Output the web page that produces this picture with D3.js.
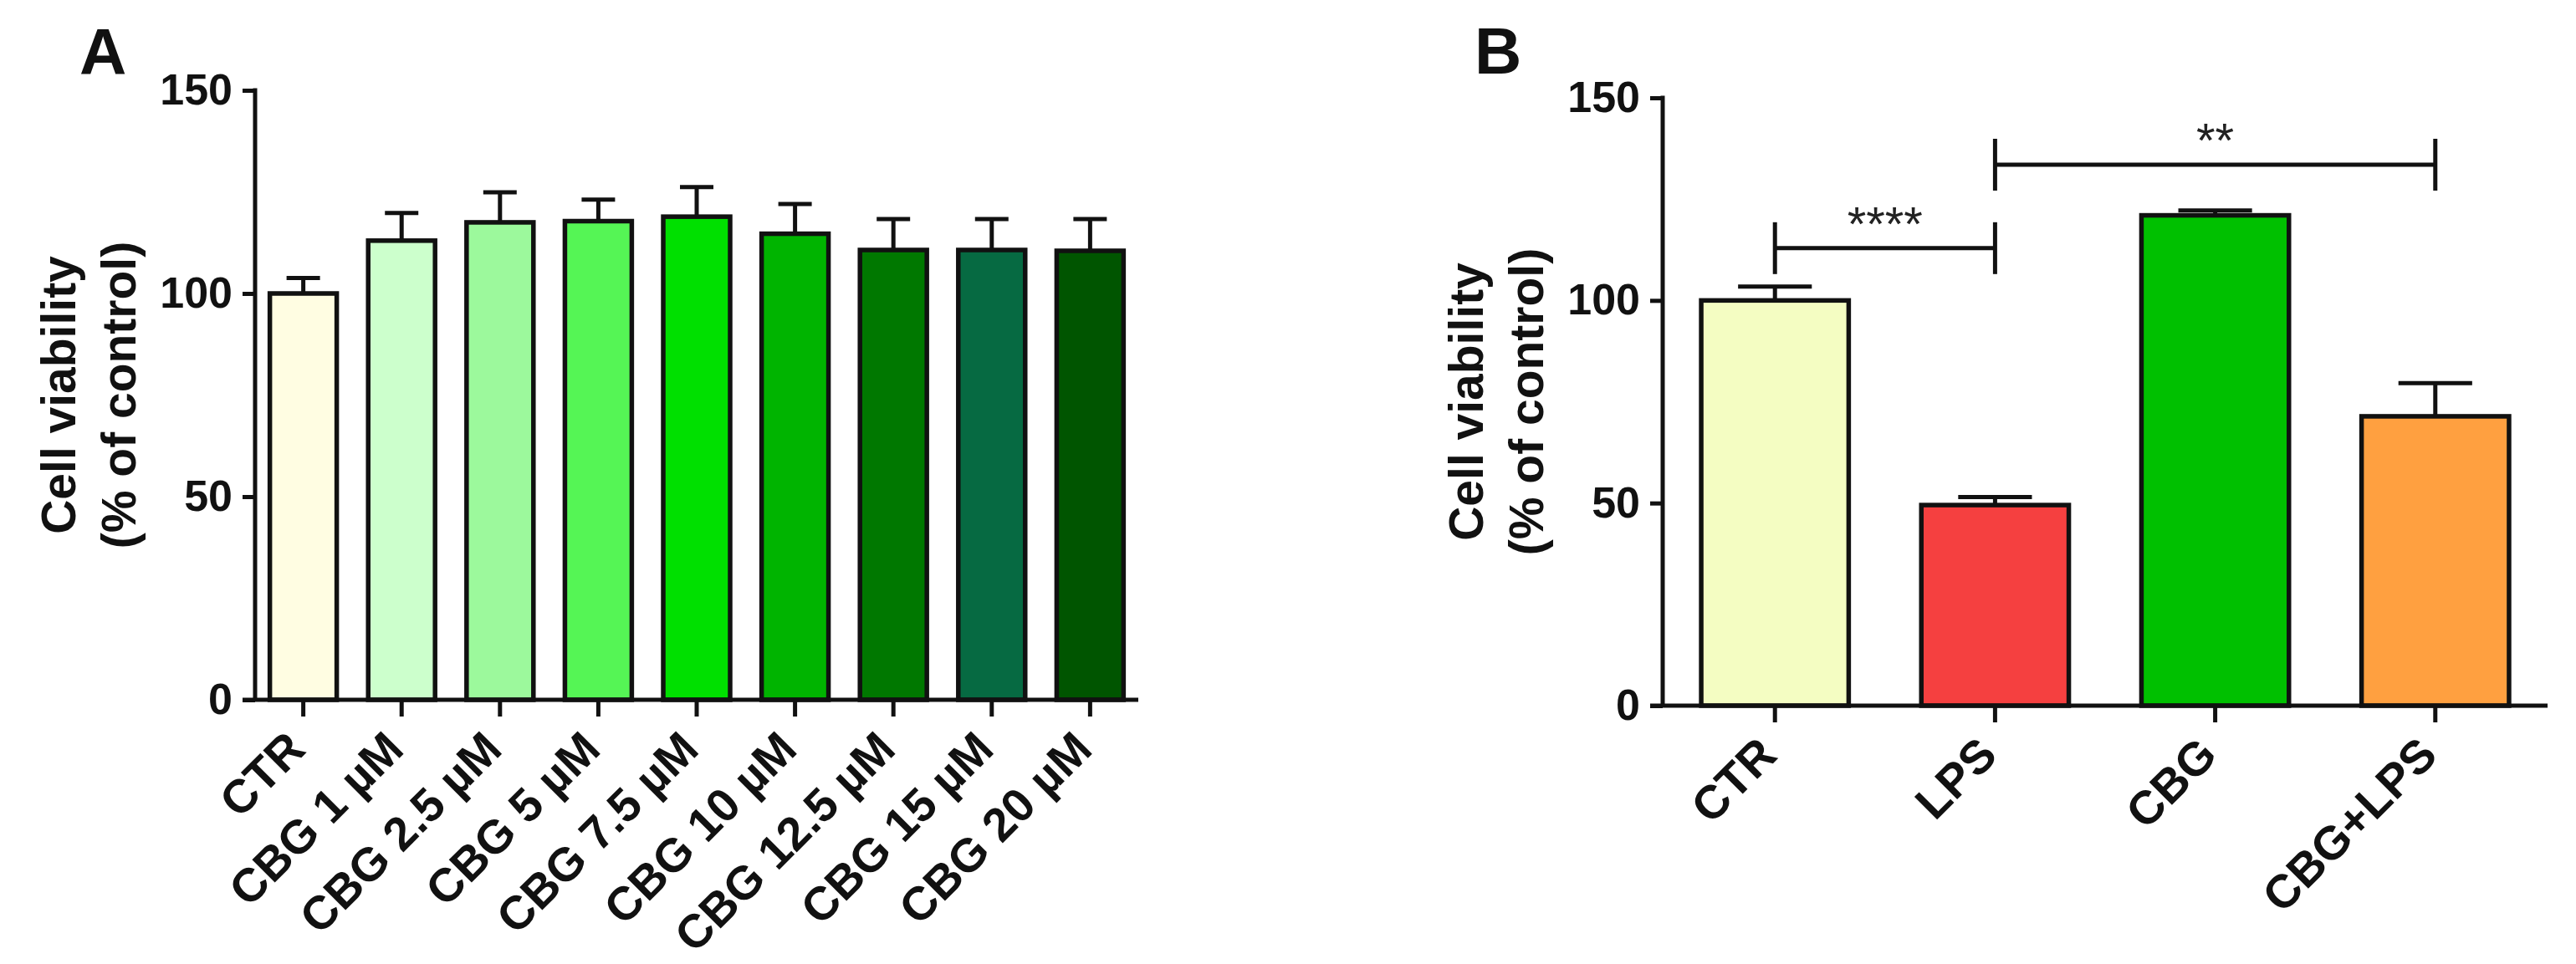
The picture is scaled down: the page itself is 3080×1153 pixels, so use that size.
<!DOCTYPE html>
<html>
<head>
<meta charset="utf-8">
<script src="https://cdn.jsdelivr.net/npm/d3@7"></script>
<style>
  body { margin: 0; background: #fff; }
  svg text { font-family: "Liberation Sans", Arial, sans-serif; font-weight: bold; fill: #111; }
</style>
</head>
<body>
<div id="wrapper"></div>
<script>
// panel A: dose response
const doseLabels = ["CTR", "CBG 1 µM", "CBG 2.5 µM", "CBG 5 µM", "CBG 7.5 µM", "CBG 10 µM", "CBG 12.5 µM", "CBG 15 µM", "CBG 20 µM"]
const doseMeans = [100, 113, 117.5, 117.8, 118.9, 114.7, 110.7, 110.7, 110.5]
const doseErrors = [3.8, 6.8, 7.4, 5.3, 7.3, 7.3, 7.6, 7.6, 7.8]
const doseColors = ["#FFFDE2", "#CCFFCC", "#9CF99C", "#55F555", "#00E000", "#00B400", "#007800", "#066A42", "#005500"]

// panel B: LPS treatment
const treatLabels = ["CTR", "LPS", "CBG", "CBG+LPS"]
const treatMeans = [100, 49.5, 121, 71.4]
const treatErrors = [3.4, 2, 1.2, 8.2]
const treatColors = ["#F4FDC2", "#F54040", "#00C000", "#FFA040"]

// significance brackets (panel B)
const bracketFrom = ["CTR", "LPS"]
const bracketTo = ["LPS", "CBG+LPS"]
const bracketLevel = [112.9, 133.5]
const bracketStars = ["****", "**"]

const yTicks = [0, 50, 100, 150]

function drawChart() {

// 1. Canvas
  const dimensions = { width: 3080, height: 1153 }

  const wrapper = d3.select("#wrapper")
    .append("svg")
      .attr("width", dimensions.width)
      .attr("height", dimensions.height)
      .style("display", "block")

  wrapper.append("rect")
    .attr("width", dimensions.width)
    .attr("height", dimensions.height)
    .attr("fill", "#fff")

// 2. Panels
  drawPanel(wrapper, {
    letter: "A", letterX: 95, letterY: 89,
    labels: doseLabels, means: doseMeans, errors: doseErrors, colors: doseColors,
    left: 305, right: 1361, top: 108, bottom: 837,
    padInner: 0.32, padOuter: 0.15,
  })

  const panelB = drawPanel(wrapper, {
    letter: "B", letterX: 1763, letterY: 88,
    labels: treatLabels, means: treatMeans, errors: treatErrors, colors: treatColors,
    left: 1988, right: 3046, top: 117, bottom: 844,
    padInner: 0.33, padOuter: 0.175,
  })

// 3. Significance brackets
  const centre = d => panelB.xScale(d) + panelB.xScale.bandwidth() / 2
  const brackets = bracketStars.map((s, i) => ({
    from: bracketFrom[i], to: bracketTo[i], level: bracketLevel[i], stars: s,
  }))

  const bracket = panelB.bounds.selectAll(".bracket")
    .data(brackets)
    .join("g")
      .attr("class", "bracket")

  bracket.append("line")
    .attr("x1", d => centre(d.from))
    .attr("x2", d => centre(d.to))
    .attr("y1", d => panelB.yScale(d.level))
    .attr("y2", d => panelB.yScale(d.level))
  bracket.append("line")
    .attr("x1", d => centre(d.from))
    .attr("x2", d => centre(d.from))
    .attr("y1", d => panelB.yScale(d.level) - 31)
    .attr("y2", d => panelB.yScale(d.level) + 31)
  bracket.append("line")
    .attr("x1", d => centre(d.to))
    .attr("x2", d => centre(d.to))
    .attr("y1", d => panelB.yScale(d.level) - 31)
    .attr("y2", d => panelB.yScale(d.level) + 31)
  bracket.selectAll("line")
    .attr("stroke", "#111")
    .attr("stroke-width", 5)

  bracket.append("text")
    .attr("x", d => (centre(d.from) + centre(d.to)) / 2)
    .attr("y", d => panelB.yScale(d.level) - 9)
    .attr("text-anchor", "middle")
    .style("font-size", "58px")
    .style("font-weight", "normal")
    .style("fill", "#222")
    .text(d => d.stars)
}

function drawPanel(wrapper, panel) {
  const dataset = panel.labels.map((d, i) => ({
    label: d, mean: panel.means[i], err: panel.errors[i], color: panel.colors[i],
  }))

  const bounds = wrapper.append("g")

// scales
  const xScale = d3.scaleBand()
    .domain(panel.labels)
    .range([panel.left, panel.right])
    .paddingInner(panel.padInner)
    .paddingOuter(panel.padOuter)

  const yScale = d3.scaleLinear()
    .domain([0, 150])
    .range([panel.bottom, panel.top])

  const bw = xScale.bandwidth()

// error bars (drawn first, bar outline covers the foot)
  const errors = bounds.append("g")
    .attr("stroke", "#111")
    .attr("stroke-width", 5)
  errors.selectAll(".stem")
    .data(dataset)
    .join("line")
      .attr("x1", d => xScale(d.label) + bw / 2)
      .attr("x2", d => xScale(d.label) + bw / 2)
      .attr("y1", d => yScale(d.mean))
      .attr("y2", d => yScale(d.mean + d.err))
  errors.selectAll(".cap")
    .data(dataset)
    .join("line")
      .attr("x1", d => xScale(d.label) + bw / 4)
      .attr("x2", d => xScale(d.label) + bw * 3 / 4)
      .attr("y1", d => yScale(d.mean + d.err))
      .attr("y2", d => yScale(d.mean + d.err))

// bars
  bounds.append("g").selectAll("rect")
    .data(dataset)
    .join("rect")
      .attr("x", d => xScale(d.label))
      .attr("y", d => yScale(d.mean))
      .attr("width", bw)
      .attr("height", d => yScale(0) - yScale(d.mean))
      .attr("fill", d => d.color)
      .attr("stroke", "#111")
      .attr("stroke-width", 5.5)

// y axis
  const yAxisGenerator = d3.axisLeft(yScale)
    .tickValues(yTicks)
    .tickSize(15)
    .tickSizeOuter(0)
    .tickPadding(12)
  const yAxis = bounds.append("g")
    .attr("transform", `translate(${panel.left},0)`)
    .call(yAxisGenerator)
  yAxis.select(".domain").remove()
  yAxis.selectAll("line")
    .attr("stroke", "#111")
    .attr("stroke-width", 5)
  yAxis.selectAll("text")
    .style("font-size", "52px")

  bounds.append("line")
    .attr("x1", panel.left)
    .attr("x2", panel.left)
    .attr("y1", yScale(150) - 2.5)
    .attr("y2", yScale(0))
    .attr("stroke", "#111")
    .attr("stroke-width", 5)

// x axis
  const xAxisGenerator = d3.axisBottom(xScale)
    .tickSize(20)
    .tickSizeOuter(0)
  const xAxis = bounds.append("g")
    .attr("transform", `translate(0,${panel.bottom})`)
    .call(xAxisGenerator)
  xAxis.select(".domain").remove()
  xAxis.selectAll("line")
    .attr("stroke", "#111")
    .attr("stroke-width", 5)
  xAxis.selectAll("text")
    .attr("x", null)
    .attr("y", null)
    .attr("dy", null)
    .attr("transform", "translate(5,62) rotate(-45)")
    .attr("text-anchor", "end")
    .style("font-size", "56px")

  bounds.append("line")
    .attr("x1", panel.left - 15)
    .attr("x2", panel.right)
    .attr("y1", yScale(0))
    .attr("y2", yScale(0))
    .attr("stroke", "#111")
    .attr("stroke-width", 5)

// axis title
  const title = bounds.append("text")
    .attr("transform", `translate(${panel.left - 215},${(panel.top + panel.bottom) / 2}) rotate(-90)`)
    .attr("text-anchor", "middle")
    .style("font-size", "57px")
  title.append("tspan")
    .attr("x", 0)
    .attr("y", 0)
    .text("Cell viability")
  title.append("tspan")
    .attr("x", 0)
    .attr("y", 72)
    .text("(% of control)")

// panel letter
  bounds.append("text")
    .attr("x", panel.letterX)
    .attr("y", panel.letterY)
    .style("font-size", "78px")
    .style("font-weight", "900")
    .text(panel.letter)

  return { bounds, xScale, yScale }
}

drawChart()
</script>
</body>
</html>
